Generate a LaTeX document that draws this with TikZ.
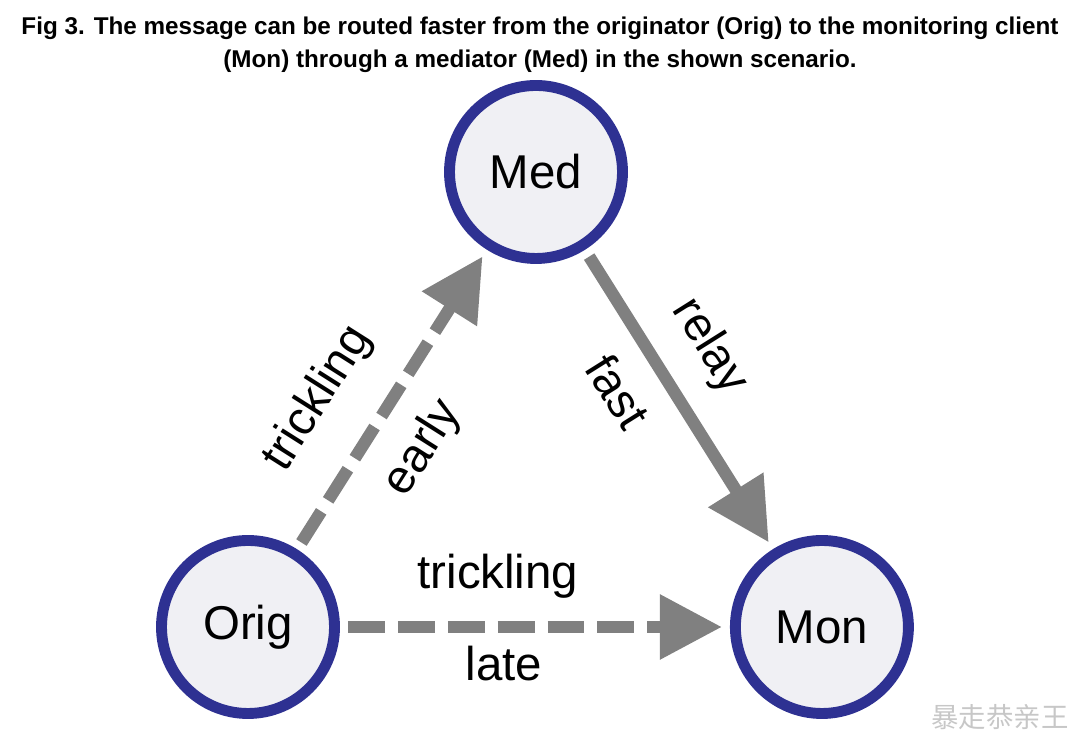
\documentclass[tikz,border=0pt]{standalone}
\usepackage{fontspec}
\setmainfont{Liberation Sans}
\newfontfamily\cjkfont{Noto Sans CJK SC}
\usepackage{xcolor}
\usepackage{tikz}
\usetikzlibrary{arrows.meta, positioning}

\definecolor{ringblue}{RGB}{46,49,146}
\definecolor{ringfill}{RGB}{240,240,244}
\definecolor{arrowgray}{RGB}{128,128,128}

\begin{document}
\begin{tikzpicture}[
    station/.style={circle, draw=ringblue, fill=ringfill, line width=3.1pt, minimum size=1.73cm, inner sep=0pt, font=\fontsize{13.5}{16}\selectfont},
    arrow/.style={-{Triangle[length=0.62cm, width=0.62cm]}, draw=arrowgray, line width=3.5pt, shorten <=0.08cm, shorten >=0.08cm},
    slow/.style={arrow, dash pattern=on 10.5pt off 3.7pt},
    edgelabel/.style={font=\fontsize{13.5}{16}\selectfont, sloped, inner sep=0pt, text height=0.73em, text depth=0.21em}
]
\useasboundingbox (0,0) rectangle (10.8,7.4);

\node[font=\bfseries\fontsize{6.9}{9.4}\selectfont, align=center] (title) at (5.40,6.95)
    {Fig 3. The message can be routed faster from the originator (Orig) to the monitoring client\\(Mon) through a mediator (Med) in the shown scenario.};

\node[station] (orig) at (2.48,1.13) {Orig};
\node[station, right=3.9cm of orig] (mon) {Mon};
\node[station] (med) at (5.36,5.68) {Med};

\draw[slow] (orig) -- node[edgelabel, above=0.37cm, pos=0.39] (trickearly) {trickling}
    node[edgelabel, below=0.33cm, pos=0.43] (early) {early} (med);
\draw[arrow] (med) -- node[edgelabel, above=0.28cm, pos=0.42] (relay) {relay}
    node[edgelabel, below=0.32cm, pos=0.39] (fast) {fast} (mon);
\draw[slow] (orig) -- node[edgelabel, above=0.25cm, pos=0.405] (tricklate) {trickling}
    node[edgelabel, below=0.22cm, pos=0.42] (late) {late} (mon);

% watermark
\node[font=\cjkfont\fontsize{7.8}{9}\selectfont, text=black!22] (mark) at (10.0,0.23) {暴走恭亲王};
\end{tikzpicture}
\end{document}
